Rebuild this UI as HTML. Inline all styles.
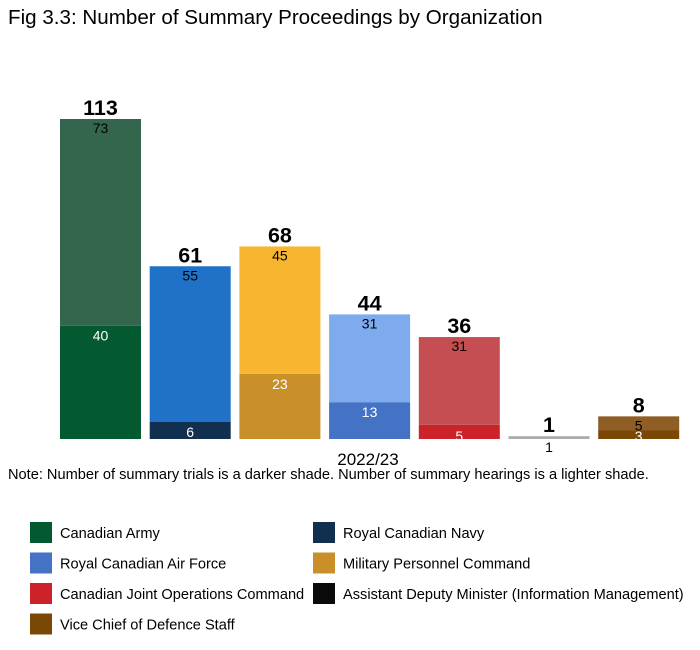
<!DOCTYPE html>
<html><head><meta charset="utf-8"><style>
body{margin:0;background:#fff;font-family:"Liberation Sans",Arial,sans-serif;}
svg{display:block}
</style></head><body>
<svg id="c" width="700" height="650" xmlns="http://www.w3.org/2000/svg">
<text x="8" y="24" font-size="20.6" fill="#000">Fig 3.3: Number of Summary Proceedings by Organization</text>
<text x="368" y="465" font-size="17" text-anchor="middle">2022/23</text>
<text x="8" y="479" font-size="14.6">Note: Number of summary trials is a darker shade. Number of summary hearings is a lighter shade.</text>
</svg>
<script>
const orgs=["Canadian Army","Royal Canadian Navy","Military Personnel Command","Royal Canadian Air Force","Canadian Joint Operations Command","Assistant Deputy Minister (Information Management)","Vice Chief of Defence Staff"];
const trials=[40,6,23,13,5,0,3];
const hearings=[73,55,45,31,31,1,5];
const darkColors=["#035A31","#11304F","#C9902A","#4472C4","#CC2229","#0A0A0A","#7A4704"];
const lightColors=["#33664D","#1F72C7","#F8B530","#7EAAEE","#C44E52","#ADADAD","#8E5E25"];
const legendOrder=[0,1,3,2,4,5,6];
const svg=document.getElementById('c');
const NS="http://www.w3.org/2000/svg";
const baseY=439, scale=320/113, x0=60, step=89.7, bw=81;
const y=v=>baseY-v*scale;
function mk(t,a){const e=document.createElementNS(NS,t);for(const k in a)e.setAttribute(k,a[k]);svg.appendChild(e);return e;}
function txt(x,yy,s,size,fill,bold){const e=mk('text',{x:x,y:yy,'font-size':size,fill:fill,'text-anchor':'middle'});if(bold)e.setAttribute('font-weight','bold');e.textContent=s;return e;}
orgs.forEach((o,i)=>{
  const x=x0+i*step, cx=x+bw/2;
  const t=trials[i], h=hearings[i], tot=t+h;
  if(t>0){const r=mk('rect',{x:x,y:y(t),width:bw,height:t*scale,fill:darkColors[i]});
  
  }
  const r2=mk('rect',{x:x,y:y(tot),width:bw,height:h*scale,fill:lightColors[i]});
  
  
  const tl=txt(cx,y(tot)-4,String(tot),21.5,"#000",true);
  
  
  const hl=txt(cx,y(tot)+14,String(h),14,"#000",false);
  if(h*scale<6) hl.setAttribute('y',baseY+13);
  
  
  if(t>0){const tt=txt(cx,y(t)+15,String(t),14,"#fff",false);
  if(t*scale<16) tt.setAttribute('y',baseY+2);
  
  }
});
legendOrder.forEach((idx,k)=>{
  const col=k%2, row=Math.floor(k/2);
  const lx=col?313:30, ly=522+row*30.5;
  const g=document.createElementNS(NS,'g');svg.appendChild(g);
  
  
  const r=document.createElementNS(NS,'rect');
  r.setAttribute('x',lx);r.setAttribute('y',ly);r.setAttribute('width',22);r.setAttribute('height',21);r.setAttribute('fill',darkColors[idx]);g.appendChild(r);
  const t=document.createElementNS(NS,'text');
  t.setAttribute('x',lx+30);t.setAttribute('y',ly+16);t.setAttribute('font-size',14.6);t.textContent=orgs[idx];g.appendChild(t);
});
</script>
</body></html>
